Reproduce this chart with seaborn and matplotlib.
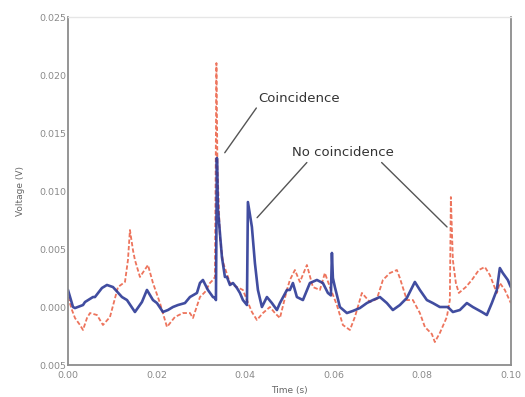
import numpy as np
import pandas as pd
import matplotlib
matplotlib.use("Agg")
import matplotlib.pyplot as plt
import seaborn as sns

# Channel traces: time in ms, voltage in mV
blue_t_ms = [0.00, 1.13, 1.58, 3.39, 3.84, 5.64, 6.09, 7.67, 8.80, 10.16, 12.19, 13.32,
             15.12, 16.70, 17.83, 19.19, 20.09, 21.44, 22.57, 23.70, 24.83, 26.41, 27.54,
             29.12, 29.80, 30.47, 31.60, 32.73, 33.18, 33.41, 33.63, 33.86, 34.76, 35.44,
             35.89, 36.57, 37.25, 38.15, 38.83, 39.50, 40.41, 40.63, 41.53, 42.21, 42.89,
             43.79, 44.92, 46.05, 47.18, 47.86, 49.44, 50.11, 50.79, 51.69, 53.05, 54.63,
             56.21, 57.56, 58.69, 59.37, 59.60, 59.82, 60.27, 61.40, 62.98, 64.33, 65.91,
             67.49, 68.85, 70.43, 72.01, 73.36, 74.94, 76.52, 78.33, 79.46, 81.04, 82.39,
             83.97, 85.78, 86.91, 88.49, 90.07, 91.42, 93.45, 94.58, 95.71, 96.84, 97.52,
             98.19, 99.32, 100.0]
blue_mv = [1.47, 0.00, -0.09, 0.17, 0.43, 0.86, 0.86, 1.64, 1.90, 1.72, 0.86, 0.60,
           -0.43, 0.43, 1.47, 0.60, 0.34, -0.43, -0.26, 0.00, 0.17, 0.34, 0.86,
           1.21, 2.07, 2.33, 1.47, 0.86, 0.78, 0.60, 12.85, 8.45, 4.31, 2.59,
           2.59, 1.90, 2.07, 1.64, 1.21, 0.60, 0.17, 9.05, 6.90, 3.79, 1.47,
           0.00, 0.86, 0.34, -0.26, 0.34, 1.47, 1.47, 2.07, 0.86, 0.60, 2.07,
           2.33, 2.07, 1.21, 1.00, 4.66, 2.50, 1.72, 0.00, -0.52, -0.34, -0.09,
           0.34, 0.60, 0.86, 0.34, -0.26, 0.17, 0.78, 2.16, 1.47, 0.60, 0.34,
           0.00, 0.00, -0.43, -0.26, 0.34, 0.00, -0.43, -0.69, 0.34, 1.47, 3.36,
           2.93, 2.33, 1.72]

red_t_ms = [0.00, 0.90, 1.58, 2.71, 3.39, 4.29, 4.97, 6.55, 7.90, 9.48, 11.29, 12.87,
            13.54, 13.99, 14.67, 15.12, 16.25, 18.06, 19.19, 20.77, 22.35, 24.15, 25.96,
            27.54, 28.22, 29.80, 30.93, 32.05, 32.73, 33.18, 33.52, 33.75, 34.31, 34.99,
            36.57, 38.15, 39.50, 40.41, 41.53, 42.66, 44.02, 45.60, 46.73, 47.86, 49.44,
            50.11, 51.24, 52.37, 53.95, 55.30, 56.89, 58.01, 59.14, 60.72, 62.08, 63.66,
            64.79, 66.37, 68.17, 69.75, 71.11, 72.69, 74.27, 74.94, 76.52, 77.88, 79.46,
            80.59, 82.17, 82.84, 83.97, 85.55, 86.23, 86.46, 86.91, 87.59, 88.26, 89.84,
            91.20, 92.78, 94.13, 95.26, 96.84, 97.52, 98.65, 100.0]
red_mv = [0.86, -0.26, -0.95, -1.55, -1.98, -0.95, -0.52, -0.69, -1.55, -0.86, 1.72, 2.16,
          4.05, 6.64, 4.91, 4.05, 2.59, 3.62, 2.07, 0.34, -1.72, -0.86, -0.52,
          -0.52, -0.95, 0.86, 1.29, 2.07, 2.33, 2.59, 21.03, 12.00, 6.03, 3.88,
          2.07, 1.72, 1.47, 0.60, -0.43, -1.12, -0.52, 0.00, -0.52, -0.95, 1.47,
          2.33, 3.19, 2.16, 3.62, 1.72, 1.47, 2.93, 1.72, 0.17, -1.55, -1.98,
          -0.86, 1.21, 0.43, 0.69, 2.33, 2.93, 3.19, 2.50, 0.60, 0.60, -0.52,
          -1.72, -2.33, -3.02, -2.24, -0.86, 0.60, 9.48, 4.05, 2.07, 1.21, 1.72,
          2.33, 3.19, 3.45, 2.76, 1.21, 2.07, 1.47, 0.34]

x_ticks = [0.00, 0.02, 0.04, 0.06, 0.08, 0.10]
x_tick_labels = ["0.00", "0.02", "0.04", "0.06", "0.08", "0.10"]
y_ticks = [-0.005, 0.000, 0.005, 0.010, 0.015, 0.020, 0.025]
y_tick_labels = ["0.005", "0.000", "0.005", "0.010", "0.015", "0.020", "0.025"]

blue_df = pd.DataFrame({"t": np.array(blue_t_ms) / 1000.0, "v": np.array(blue_mv) / 1000.0})
red_df = pd.DataFrame({"t": np.array(red_t_ms) / 1000.0, "v": np.array(red_mv) / 1000.0})

sns.set_style("white")
plt.rcParams["font.family"] = ["DejaVu Sans"]

fig = plt.figure(figsize=(5.25, 3.97), dpi=100)
ax = fig.add_axes([0.1295, 0.0806, 0.8435, 0.8765])

sns.lineplot(data=red_df, x="t", y="v", ax=ax, estimator=None, sort=False,
             color="#ea5c40", linewidth=1.3, alpha=0.85)
ax.lines[-1].set_dashes([2.4, 1.2])
sns.lineplot(data=blue_df, x="t", y="v", ax=ax, estimator=None, sort=False,
             color="#2c3a96", linewidth=1.9, alpha=0.9)

ax.set_xlim(0.0, 0.10)
ax.set_ylim(-0.005, 0.025)
ax.set_xticks(x_ticks)
ax.set_xticklabels(x_tick_labels)
ax.set_yticks(y_ticks)
ax.set_yticklabels(y_tick_labels)
ax.tick_params(axis="both", labelsize=6.8, colors="#8a8a8a", length=2.5, width=0.8,
               direction="in", pad=1.5)
ax.tick_params(axis="x", pad=4.5)

ax.set_xlabel("Time (s)", fontsize=6.5, color="#666666", labelpad=4)
ax.set_ylabel("Voltage (V)", fontsize=6.5, color="#666666", labelpad=10)

for side in ["left", "bottom", "right"]:
    ax.spines[side].set_color("#8c8c8c")
    ax.spines[side].set_linewidth(1.3)
ax.spines["top"].set_color("#e6e6e6")
ax.spines["top"].set_linewidth(1.0)

line_props = dict(arrowstyle="-", color="#555555", lw=1.0, shrinkA=0, shrinkB=0)
ax.annotate("Coincidence", xy=(0.0354, 0.0133), xytext=(0.0429, 0.0180),
            fontsize=9.5, color="#333333", va="center", ha="left",
            arrowprops=dict(line_props, relpos=(0.02, 0.1)))
ax.annotate("No coincidence", xy=(0.0427, 0.0077), xytext=(0.0506, 0.0133),
            fontsize=9.5, color="#333333", va="center", ha="left",
            arrowprops=dict(line_props, relpos=(0.18, 0.05)))
ax.annotate("No coincidence", xy=(0.0856, 0.0069), xytext=(0.0506, 0.0133),
            fontsize=9.5, color="#333333", va="center", ha="left", alpha=0.0,
            arrowprops=dict(line_props, relpos=(0.84, 0.05), alpha=1.0))

fig.savefig("out.png", dpi=100)
